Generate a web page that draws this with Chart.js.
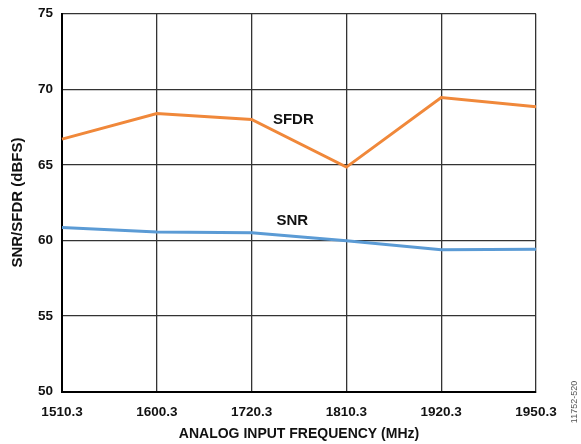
<!DOCTYPE html>
<html>
<head>
<meta charset="utf-8">
<script src="https://cdn.jsdelivr.net/npm/chart.js@4"></script>
<style>
html,body{margin:0;padding:0;background:#fff;}
#wrap{width:581px;height:444px;position:relative;}
</style>
</head>
<body>
<div id="wrap"><canvas id="c" width="581" height="444"></canvas></div>
<script>
const categories = ["1510.3", "1600.3", "1720.3", "1810.3", "1920.3", "1950.3"];
const sfdr = [66.7, 68.4, 68.0, 64.85, 69.45, 68.85];
const snr = [60.85, 60.55, 60.5, 59.98, 59.38, 59.42];
const yTicks = [50, 55, 60, 65, 70, 75];
const seriesLabels = [
  {text: "SFDR", cat: 2.44, value: 67.95},
  {text: "SNR", cat: 2.43, value: 61.27}
];
const FONT = "'Liberation Sans', Arial, sans-serif";

const labelPlugin = {
  id: 'labels',
  afterDatasetsDraw(chart) {
    const ctx = chart.ctx;
    const xs = chart.scales.x, ys = chart.scales.y;
    ctx.save();
    ctx.fillStyle = '#111';
    ctx.font = "bold 15px " + FONT;
    ctx.textAlign = 'center';
    ctx.textBaseline = 'middle';
    seriesLabels.forEach(l => {
      const i = Math.floor(l.cat);
      const x0 = xs.getPixelForValue(i);
      const x1 = xs.getPixelForValue(i + 1);
      const x = x0 + (x1 - x0) * (l.cat - i);
      ctx.fillText(l.text, x, ys.getPixelForValue(l.value));
    });
    ctx.translate(575, 402);
    ctx.rotate(-Math.PI / 2);
    ctx.font = "9px " + FONT;
    ctx.fillStyle = '#555';
    ctx.textAlign = 'center';
    ctx.fillText("11752-520", 0, 0);
    ctx.restore();
  }
};

new Chart(document.getElementById('c'), {
  type: 'line',
  data: {
    labels: categories,
    datasets: [
      {label: 'SFDR', data: sfdr, borderColor: '#F0883A', borderWidth: 3, pointRadius: 0, tension: 0},
      {label: 'SNR', data: snr, borderColor: '#5B9BD5', borderWidth: 3, pointRadius: 0, tension: 0}
    ]
  },
  options: {
    responsive: false,
    animation: false,
    devicePixelRatio: 1,
    layout: {padding: {left: 10, right: 45, top: 3, bottom: 3}},
    plugins: {legend: {display: false}, tooltip: {enabled: false}},
    scales: {
      x: {
        type: 'category',
        offset: false,
        grid: {color: '#333', lineWidth: 1.3, drawTicks: false},
        border: {color: '#000', width: 2},
        ticks: {color: '#111', font: {family: FONT, size: 13.5, weight: 'bold', lineHeight: 1}, padding: 14, maxRotation: 0, autoSkip: false},
        title: {display: true, text: 'ANALOG INPUT FREQUENCY (MHz)', color: '#111', font: {family: FONT, size: 14, weight: 'bold', lineHeight: 1}, padding: {top: -6, bottom: 0}}
      },
      y: {
        min: 50, max: 75,
        afterBuildTicks(axis) { axis.ticks = yTicks.map(v => ({value: v})); },
        grid: {color: '#333', lineWidth: 1.3, drawTicks: false},
        border: {color: '#000', width: 2},
        ticks: {color: '#111', font: {family: FONT, size: 13.5, weight: 'bold', lineHeight: 0.7}, padding: 9},
        title: {display: true, text: 'SNR/SFDR (dBFS)', color: '#111', font: {family: FONT, size: 15, weight: 'bold', lineHeight: 1}, padding: {top: 0, bottom: 4}}
      }
    }
  },
  plugins: [labelPlugin]
});
</script>
</body>
</html>
